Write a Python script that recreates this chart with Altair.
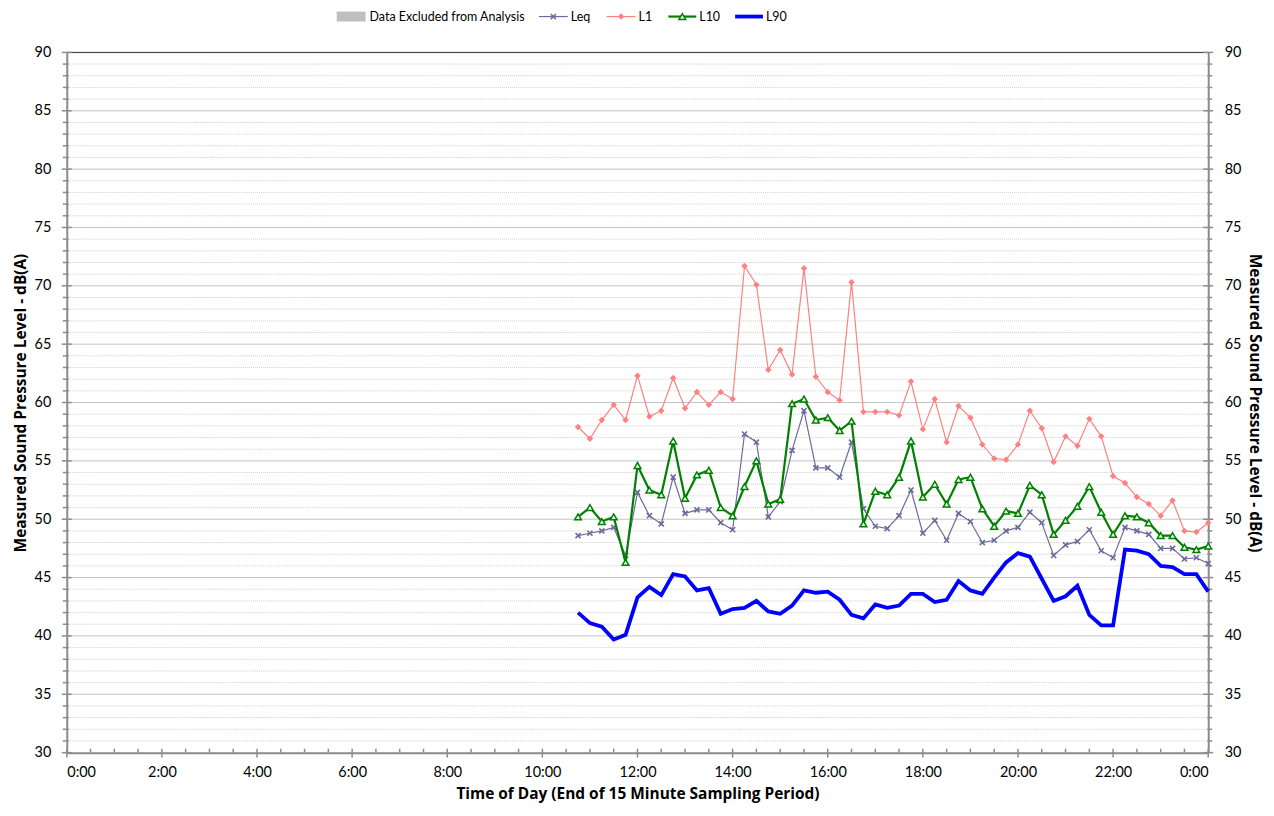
import altair as alt
import pandas as pd

# ---- data (15-minute periods, first period ending 10:45) ----
start_hour = 10.75
step_hours = 0.25

leq = [48.6, 48.8, 49.0, 49.3, 46.9, 52.3, 50.3, 49.6, 53.6, 50.5, 50.8, 50.8, 49.7, 49.1,
       57.3, 56.6, 50.2, 51.5, 55.9, 59.3, 54.4, 54.4, 53.6, 56.6, 50.9, 49.4, 49.2, 50.3,
       52.5, 48.8, 49.9, 48.2, 50.5, 49.8, 48.0, 48.2, 49.0, 49.3, 50.6, 49.7, 46.9, 47.8,
       48.1, 49.1, 47.3, 46.7, 49.3, 49.0, 48.7, 47.5, 47.5, 46.6, 46.7, 46.2]
l1 = [57.9, 56.9, 58.5, 59.8, 58.5, 62.3, 58.8, 59.3, 62.1, 59.5, 60.9, 59.8, 60.9, 60.3,
      71.7, 70.1, 62.8, 64.5, 62.4, 71.5, 62.2, 60.9, 60.2, 70.3, 59.2, 59.2, 59.2, 58.9,
      61.8, 57.7, 60.3, 56.6, 59.7, 58.7, 56.4, 55.2, 55.1, 56.4, 59.3, 57.8, 54.9, 57.1,
      56.3, 58.6, 57.1, 53.7, 53.1, 51.9, 51.3, 50.3, 51.6, 49.0, 48.9, 49.7]
l10 = [50.2, 51.0, 49.8, 50.2, 46.3, 54.6, 52.5, 52.1, 56.7, 51.8, 53.8, 54.2, 51.0, 50.3,
       52.8, 55.0, 51.3, 51.7, 59.9, 60.3, 58.5, 58.7, 57.6, 58.4, 49.6, 52.4, 52.1, 53.6,
       56.7, 51.9, 53.0, 51.3, 53.4, 53.6, 50.9, 49.4, 50.7, 50.5, 52.9, 52.1, 48.7, 49.9,
       51.1, 52.8, 50.6, 48.7, 50.3, 50.2, 49.7, 48.6, 48.6, 47.6, 47.4, 47.7]
l90 = [42.0, 41.1, 40.8, 39.7, 40.1, 43.3, 44.2, 43.5, 45.3, 45.1, 43.9, 44.1, 41.9, 42.3,
       42.4, 43.0, 42.1, 41.9, 42.6, 43.9, 43.7, 43.8, 43.1, 41.8, 41.5, 42.7, 42.4, 42.6,
       43.6, 43.6, 42.9, 43.1, 44.7, 43.9, 43.6, 45.0, 46.3, 47.1, 46.8, 44.9, 43.0, 43.4,
       44.3, 41.8, 40.9, 40.9, 47.4, 47.3, 47.0, 46.0, 45.9, 45.3, 45.3, 43.8]

series_names = ["Leq", "L1", "L10", "L90"]
x_tick_hours = list(range(0, 25, 2))
x_minor_hours = [h / 2 for h in range(0, 49) if h % 4 != 0]
y_major = list(range(30, 91, 5))
y_minor = [v for v in range(30, 91) if v % 5 != 0]
x_title = "Time of Day (End of 15 Minute Sampling Period)"
y_title = "Measured Sound Pressure Level - dB(A)"

n = len(leq)
hours = [start_hour + i * step_hours for i in range(n)]
df = pd.DataFrame({
    "hour": hours * 4,
    "value": leq + l1 + l10 + l90,
    "series": sum([[s] * n for s in series_names], []),
})

W, H = 1146, 703
FONT = "Lato"
TFONT = "Open Sans"
AX = "#8c8c8c"

xs = alt.Scale(domain=[0, 24], nice=False, zero=False)
ys = alt.Scale(domain=[30, 90], nice=False, zero=False)

one = alt.Data(values=[{"k": 1}])

# gridlines
grid_minor = alt.Chart(pd.DataFrame({"v": y_minor})).mark_rule(
    color="#cfcfcf", strokeWidth=1, strokeDash=[1, 1]
).encode(y=alt.Y("v:Q", scale=ys, axis=None))
grid_major = alt.Chart(pd.DataFrame({"v": [v for v in y_major if 30 < v < 90]})).mark_rule(
    color="#c4c4c4", strokeWidth=1
).encode(y=alt.Y("v:Q", scale=ys, axis=None))
top_line = alt.Chart(pd.DataFrame({"v": [90]})).mark_rule(
    color="#333333", strokeWidth=1
).encode(y=alt.Y("v:Q", scale=ys, axis=None))

label_kw = dict(labelFont=FONT, labelFontSize=14.5, labelColor="#000")
title_kw = dict(titleFont=TFONT, titleFontSize=15.5, titleFontWeight="bold", titleColor="#000")

# axes (left + x)
base_axes = alt.Chart(pd.DataFrame({"v": [30, 90], "h": [0, 24]})).mark_point(opacity=0).encode(
    x=alt.X("h:Q", scale=xs, axis=alt.Axis(
        values=x_tick_hours, labelExpr="(datum.value % 24) + ':00'", ticks=False,
        domainColor=AX, domainWidth=2, grid=False, labelPadding=13, title=x_title,
        titlePadding=8, **label_kw, **title_kw)),
    y=alt.Y("v:Q", scale=ys, axis=alt.Axis(
        values=y_major, ticks=False, domainColor=AX, domainWidth=2, grid=False,
        labelPadding=16, title=y_title, titlePadding=6, **label_kw, **title_kw)),
)
right_axis = alt.Chart(pd.DataFrame({"v": [30, 90]})).mark_point(opacity=0).encode(
    y=alt.Y("v:Q", scale=ys, axis=alt.Axis(
        orient="right", values=y_major, ticks=False, domainColor=AX, domainWidth=2, grid=False,
        labelPadding=16, title=y_title, titlePadding=6, titleAngle=90,
        **label_kw, **title_kw)),
)

# manual ticks
def ytick(vals, x1, x2):
    return alt.Chart(pd.DataFrame({"v": vals})).mark_rule(color=AX, strokeWidth=1.5).encode(
        y=alt.Y("v:Q", scale=ys, axis=None), x=alt.value(x1), x2=alt.value(x2))

def xtick(vals, y1, y2):
    return alt.Chart(pd.DataFrame({"h": vals})).mark_rule(color=AX, strokeWidth=1.5).encode(
        x=alt.X("h:Q", scale=xs, axis=None), y=alt.value(y1), y2=alt.value(y2))

ticks = [
    ytick(y_major, -5, 5), ytick(y_minor, -4, 2),
    ytick(y_major, W - 5, W + 5), ytick(y_minor, W - 1, W + 4),
    xtick(x_tick_hours, H - 4, H + 5), xtick(x_minor_hours, H - 4, H),
]

def line(name, color, width):
    return alt.Chart(df).transform_filter(alt.datum.series == name).mark_line(
        color=color, strokeWidth=width).encode(
        x=alt.X("hour:Q", scale=xs, axis=None), y=alt.Y("value:Q", scale=ys, axis=None))

XPATH = "M-1,-1L1,1M-1,1L1,-1"
C_LEQ, C_L1, C_L10, C_L90 = "#6b6b9c", "#ff8080", "#008000", "#0000ff"

def pts(name, **kw):
    return alt.Chart(df).transform_filter(alt.datum.series == name).mark_point(**kw).encode(
        x=alt.X("hour:Q", scale=xs, axis=None), y=alt.Y("value:Q", scale=ys, axis=None))

series_layers = [
    line("Leq", C_LEQ, 1.2),
    pts("Leq", shape=XPATH, size=26, filled=False, stroke=C_LEQ, strokeWidth=1.6, opacity=1),
    line("L1", C_L1, 1.2),
    pts("L1", shape="diamond", size=42, filled=True, fill=C_L1, opacity=1),
    line("L10", C_L10, 2.2),
    pts("L10", shape="triangle-up", size=46, filled=True, fill="#e8f5e8", stroke=C_L10,
        strokeWidth=1.5, opacity=1),
    line("L90", C_L90, 3.8),
]

# legend (manual, above plot)
LY = -36
def leg_rule(x1, x2, color, w):
    return alt.Chart(one).mark_rule(color=color, strokeWidth=w).encode(
        x=alt.value(x1), x2=alt.value(x2), y=alt.value(LY))

def leg_text(x, txt):
    return alt.Chart(one).mark_text(align="left", baseline="middle", font=FONT, fontSize=12.5,
                                    color="#000", text=txt).encode(x=alt.value(x), y=alt.value(LY))

def leg_pt(x, **kw):
    return alt.Chart(one).mark_point(opacity=1, **kw).encode(x=alt.value(x), y=alt.value(LY))

legend = [
    alt.Chart(one).mark_rect(color="#bfbfbf").encode(
        x=alt.value(271), x2=alt.value(300), y=alt.value(LY - 5), y2=alt.value(LY + 5)),
    leg_text(304, "Data Excluded from Analysis"),
    leg_rule(474, 503, C_LEQ, 1.2),
    leg_pt(488.5, shape=XPATH, size=26, filled=False, stroke=C_LEQ, strokeWidth=1.6),
    leg_text(506, "Leq"),
    leg_rule(542, 571, C_L1, 1.2),
    leg_pt(556.5, shape="diamond", size=42, filled=True, fill=C_L1),
    leg_text(574, "L1"),
    leg_rule(604, 632, C_L10, 2.2),
    leg_pt(618, shape="triangle-up", size=46, filled=True, fill="#e8f5e8", stroke=C_L10,
           strokeWidth=1.5),
    leg_text(635, "L10"),
    leg_rule(671, 699, C_L90, 3.8),
    leg_text(702, "L90"),
]

chart = alt.layer(
    grid_minor, grid_major, top_line, base_axes, right_axis, *ticks, *series_layers, *legend
).resolve_axis(y="independent", x="independent").resolve_scale(y="shared", x="shared").properties(
    width=W, height=H,
    autosize=alt.AutoSizeParams(type="pad"),
    padding={"left": 5, "top": 1, "right": 4, "bottom": 5},
).configure_view(stroke=None).configure(background="white")

chart.save("out.html", embed_options={"renderer": "svg", "actions": False})
